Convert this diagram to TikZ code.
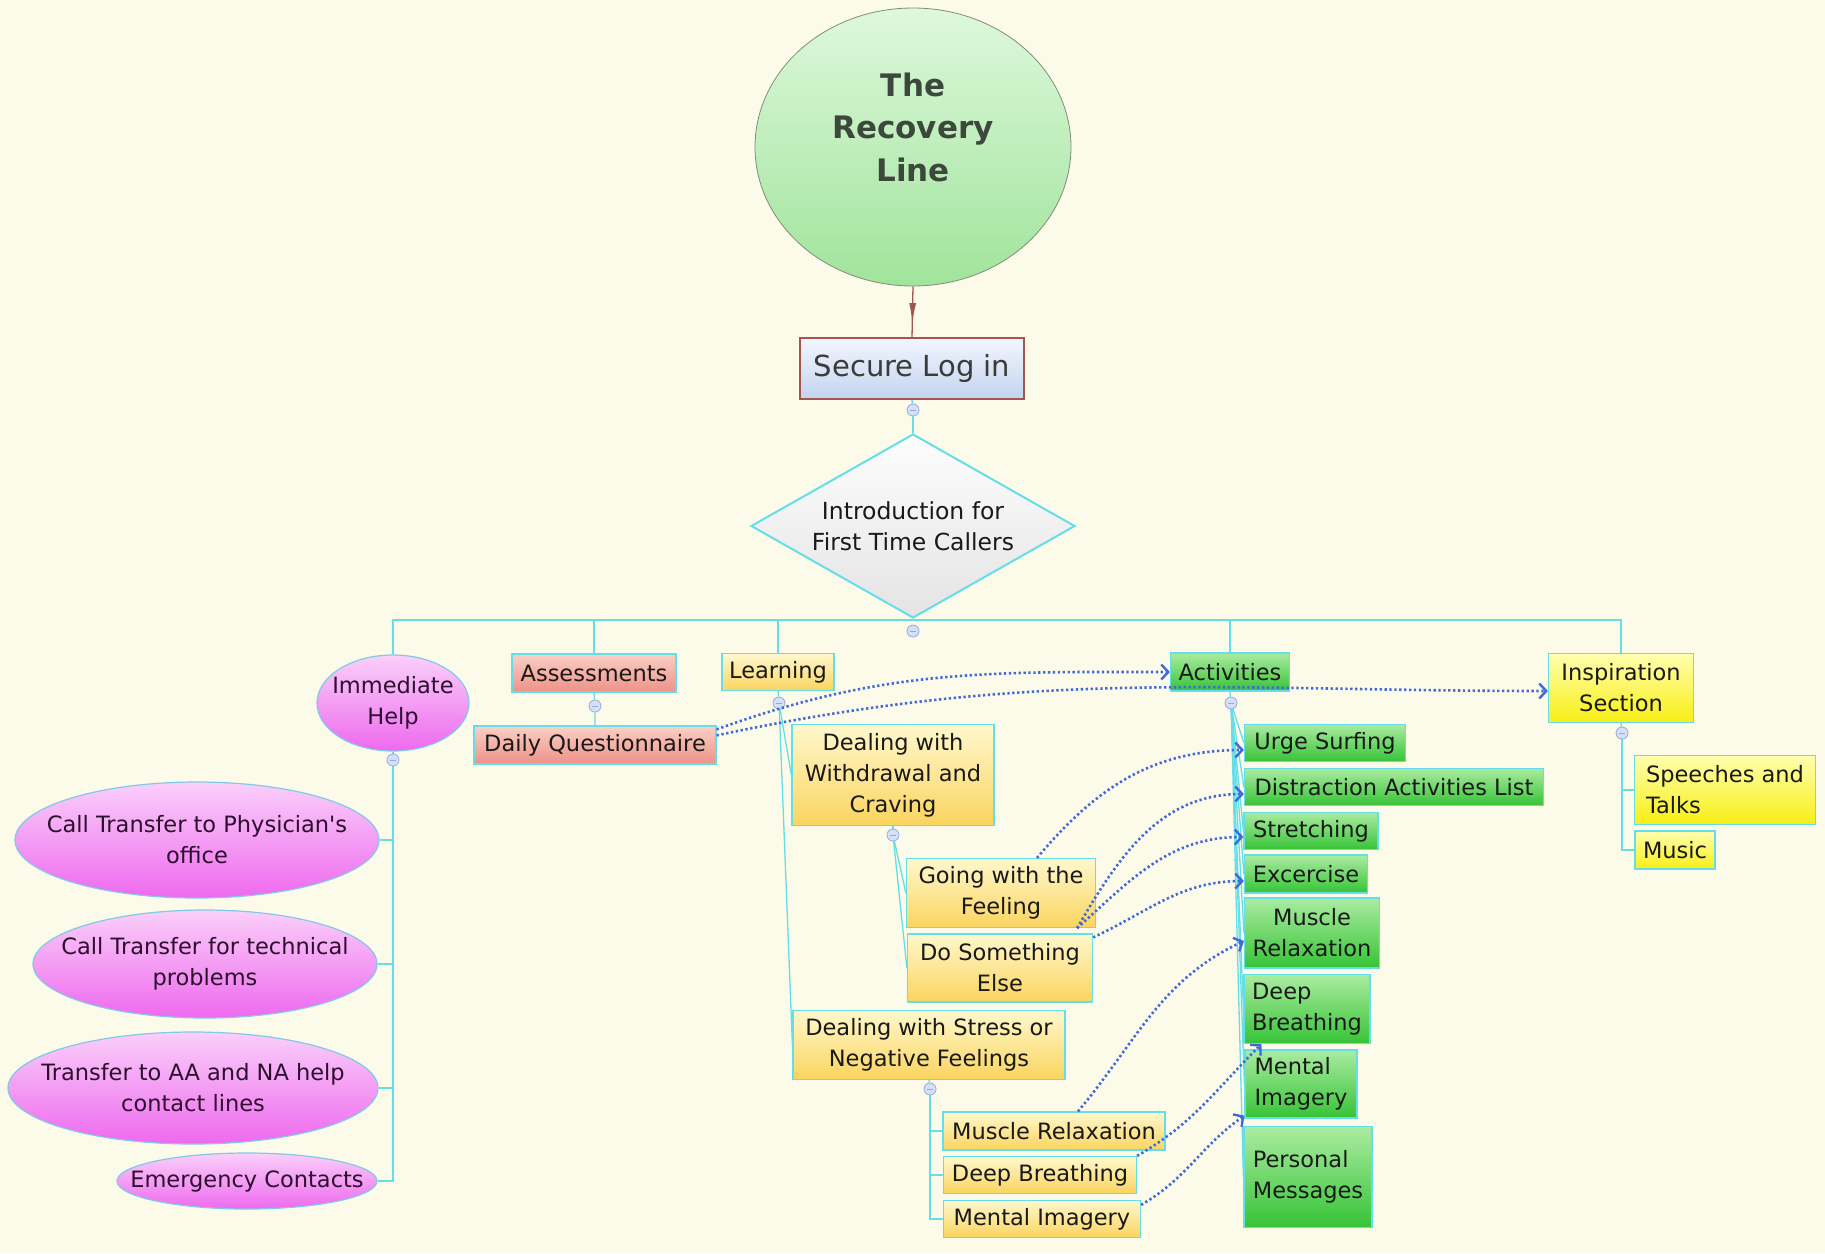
\documentclass[tikz,border=0pt]{standalone}
\usepackage{fontspec}
\setmainfont{DejaVu Sans}
\usetikzlibrary{shapes.geometric,arrows.meta,decorations.markings,calc}
\pgfdeclarelayer{back}
\pgfdeclarelayer{lines}
\pgfsetlayers{back,lines,main}
\definecolor{bgc}{RGB}{252,251,233}
\definecolor{cyl}{RGB}{100,222,232}
\definecolor{dotb}{RGB}{65,105,215}
\definecolor{txt}{RGB}{25,25,25}
\definecolor{titlec}{RGB}{60,72,60}
\definecolor{brownc}{RGB}{165,85,80}
\definecolor{circt}{RGB}{222,248,220}
\definecolor{circb}{RGB}{160,228,155}
\definecolor{circd}{RGB}{130,140,120}
\definecolor{logt}{RGB}{242,246,253}
\definecolor{logb}{RGB}{195,212,240}
\definecolor{diat}{RGB}{253,253,253}
\definecolor{diab}{RGB}{228,228,228}
\definecolor{pkt}{RGB}{250,208,250}
\definecolor{pkb}{RGB}{238,105,238}
\definecolor{pkd}{RGB}{130,200,232}
\definecolor{pktxt}{RGB}{45,15,45}
\definecolor{rdt}{RGB}{250,208,198}
\definecolor{rdb}{RGB}{238,145,135}
\definecolor{ylt}{RGB}{255,248,205}
\definecolor{ylb}{RGB}{250,212,95}
\definecolor{byt}{RGB}{255,255,175}
\definecolor{byb}{RGB}{248,238,20}
\definecolor{grt}{RGB}{170,236,160}
\definecolor{grb}{RGB}{55,195,55}
\definecolor{mkf}{RGB}{212,224,246}
\definecolor{mkd}{RGB}{150,170,222}
\tikzset{
  sz/.style 2 args={minimum width=#1pt,minimum height=#2pt},
  base/.style={draw=cyl,line width=1.2pt,inner sep=0pt,align=center,text=txt,
    font=\fontsize{22.5}{31}\selectfont},
  ybox/.style={base,rectangle,top color=ylt,bottom color=ylb},
  ibox/.style={base,rectangle,top color=byt,bottom color=byb},
  rbox/.style={base,rectangle,top color=rdt,bottom color=rdb},
  gbox/.style={base,rectangle,top color=grt,bottom color=grb},
  pk/.style={base,ellipse,draw=pkd,top color=pkt,bottom color=pkb,text=pktxt,
    inner xsep=-30pt,inner ysep=0pt},
  mk/.style={circle,draw=mkd,fill=mkf,line width=0.8pt,minimum size=12pt,inner sep=0pt,
    path picture={\draw[mkd,line width=0.9pt]
      ([xshift=-3pt]path picture bounding box.center) -- ([xshift=3pt]path picture bounding box.center);}},
  conn/.style={draw=cyl,line width=1.6pt},
  thin/.style={draw=cyl,line width=1.3pt},
  dotarrow/.style={draw=dotb,line width=2.6pt,dash pattern=on 2.3pt off 2.6pt,
    -{Straight Barb[length=7pt,width=15pt,line width=2.4pt]}},
}
\begin{document}
\begin{tikzpicture}[x=1pt,y=1pt]
\begin{pgfonlayer}{back}
\fill[bgc] (0,0) rectangle (1825,-1253);
\end{pgfonlayer}
\useasboundingbox (0,0) rectangle (1825,-1253);

% central column
\node[ellipse,draw=circd,line width=0.8pt,top color=circt,bottom color=circb,
  minimum width=316pt,minimum height=278pt,inner sep=0pt] (title) at (913,-147) {};
\node[text=titlec,font=\bfseries\fontsize{31}{42.5}\selectfont,align=center] (titletext) at (913,-127) {The\\Recovery\\Line};
\node[rectangle,draw=brownc,line width=1.3pt,top color=logt,bottom color=logb,inner sep=0pt,
  sz={224}{61},text=txt!85,font=\fontsize{29}{35}\selectfont] (login) at (912,-368.5) {Secure Log in};
\node[mk] (mlogin) at (913,-410) {};
\node[diamond,draw=cyl,line width=2pt,top color=diat,bottom color=diab,aspect=1.76,
  minimum width=324pt,minimum height=184pt,inner sep=0pt,align=center,text=txt,
  font=\fontsize{23.5}{31}\selectfont] (intro) at (913,-526) {Introduction for\\First Time Callers};
\coordinate (bus) at (913,-620);
\node[mk] (mbus) at (913,-631) {};

% immediate help
\node[pk,sz={152}{96}] (ih) at (393,-703) {Immediate\\Help};
\node[mk] (mih) at (393,-760) {};
\node[pk,sz={364}{116}] (e1) at (197,-840) {Call Transfer to Physician\textquotesingle s\\office};
\node[pk,sz={344}{108}] (e2) at (205,-964) {Call Transfer for technical\\problems};
\node[pk,sz={370}{112}] (e3) at (193,-1088) {Transfer to AA and NA help\\contact lines};
\node[pk,sz={260}{56}] (e4) at (247,-1181) {Emergency Contacts};

% assessments
\node[rbox,sz={164}{38}] (ass) at (594,-673) {Assessments};
\node[mk] (mass) at (595,-706) {};
\node[rbox,sz={242}{38}] (dq) at (595,-745) {Daily Questionnaire};

% learning
\node[ybox,sz={112}{37}] (learn) at (778,-672) {Learning};
\node[mk] (mlearn) at (779,-703) {};
\node[ybox,sz={202}{101}] (wd) at (893,-775) {Dealing with\\Withdrawal and\\Craving};
\node[mk] (mwd) at (893,-835) {};
\node[ybox,sz={189}{69}] (going) at (1001,-893) {Going with the\\Feeling};
\node[ybox,sz={185}{68}] (dse) at (1000,-968) {Do Something\\Else};
\node[ybox,sz={272}{69}] (stress) at (929,-1045) {Dealing with Stress or\\Negative Feelings};
\node[mk] (mst) at (930,-1089) {};
\node[ybox,sz={222}{38}] (ymr) at (1054,-1131) {Muscle Relaxation};
\node[ybox,sz={193}{37}] (ydb) at (1040,-1175) {Deep Breathing};
\node[ybox,sz={197}{37}] (ymi) at (1042,-1219) {Mental Imagery};

% activities
\node[gbox,sz={119}{38}] (act) at (1230,-672) {Activities};
\node[mk] (mact) at (1231,-703) {};
\node[gbox,sz={161}{37}] (urge) at (1325,-743) {Urge Surfing};
\node[gbox,sz={299}{37}] (dist) at (1394,-787) {Distraction Activities List};
\node[gbox,sz={134}{37}] (stretch) at (1311,-831) {Stretching};
\node[gbox,sz={123}{38}] (exer) at (1306,-874) {Excercise};
\node[gbox,sz={135}{70}] (gmr) at (1312,-933) {Muscle\\Relaxation};
\node[gbox,sz={126}{69},align=left] (gdb) at (1307,-1009) {Deep\\Breathing};
\node[gbox,sz={112}{68},align=left] (gmi) at (1301,-1084) {Mental\\Imagery};
\node[gbox,sz={128}{101},align=left] (gpm) at (1308,-1177) {Personal\\Messages};

% inspiration
\node[ibox,sz={145}{69}] (insp) at (1621,-688) {Inspiration\\Section};
\node[mk] (minsp) at (1622,-733) {};
\node[ibox,sz={181}{69},align=left] (speech) at (1725,-790) {Speeches and\\Talks};
\node[ibox,sz={80}{38}] (music) at (1675,-850) {Music};

% tree connectors
\begin{pgfonlayer}{lines}
\draw[brownc,line width=1.3pt,postaction={decorate},
  decoration={markings,mark=at position 0.72 with {\arrow{Latex[length=20pt,width=7pt]}}}]
  (title.south) -- (login.north);
\draw[conn] (login.south) -- (mlogin) -- (intro.north);
\draw[conn] (intro.south) -- (bus);
\draw[conn] (ih.north) |- (bus) -| (insp.north);
\draw[conn] (ass.north) -- (ass.north |- bus);
\draw[conn] (learn.north) -- (learn.north |- bus);
\draw[conn] (act.north) -- (act.north |- bus);
\draw[thin] (ih.south) -- (mih);
\draw[thin] (mih) |- (e4.east);
\draw[thin] (mih |- e1.east) -- (e1.east);
\draw[thin] (mih |- e2.east) -- (e2.east);
\draw[thin] (mih |- e3.east) -- (e3.east);
\draw[thin] (ass.south) -- (mass) -- (dq.north);
\draw[thin] (learn.south) -- (mlearn);
\draw[thin] (mlearn) -- (wd.west);
\draw[thin] (mlearn) -- (stress.west);
\draw[thin] (wd.south) -- (mwd);
\draw[thin] (mwd) -- (going.west);
\draw[thin] (mwd) -- (dse.west);
\draw[thin] (stress.south) -- (mst);
\draw[thin] (mst) |- (ymi.west);
\draw[thin] (mst |- ymr.west) -- (ymr.west);
\draw[thin] (mst |- ydb.west) -- (ydb.west);
\draw[thin] (act.south) -- (mact);
\foreach \c in {urge,dist,stretch,exer,gmr,gdb,gmi,gpm}
  \draw[thin] (mact) -- (\c.west);
\draw[thin] (insp.south) -- (minsp);
\draw[thin] (minsp) |- (music.west);
\draw[thin] (minsp |- speech.west) -- (speech.west);
\end{pgfonlayer}

% dotted cross links
\draw[dotarrow] ([yshift=-4pt]dq.north east) to[out=20,in=180] (act.west);
\draw[dotarrow] ([yshift=-10pt]dq.north east) to[out=12,in=180] ([yshift=-3pt]insp.west);
\draw[dotarrow] ([xshift=36pt]going.north) to[out=50,in=180] ([yshift=-7pt]urge.west);
\draw[dotarrow] ([xshift=-19pt]going.south east) to[out=60,in=180] ([yshift=-7pt]dist.west);
\draw[dotarrow] ([xshift=-19pt]going.south east) to[out=42,in=180] ([yshift=-6pt]stretch.west);
\draw[dotarrow] ([yshift=-4pt]dse.north east) to[out=25,in=180] ([yshift=-7pt]exer.west);
\draw[dotarrow] ([xshift=24pt]ymr.north) to[out=50,in=205] ([yshift=-8pt]gmr.west);
\draw[dotarrow] (ydb.north east) to[out=30,in=225] ([xshift=18pt]gdb.south west);
\draw[dotarrow] ([yshift=-5pt]ymi.north east) to[out=30,in=215] ([yshift=3pt]gmi.south west);
\end{tikzpicture}
\end{document}
